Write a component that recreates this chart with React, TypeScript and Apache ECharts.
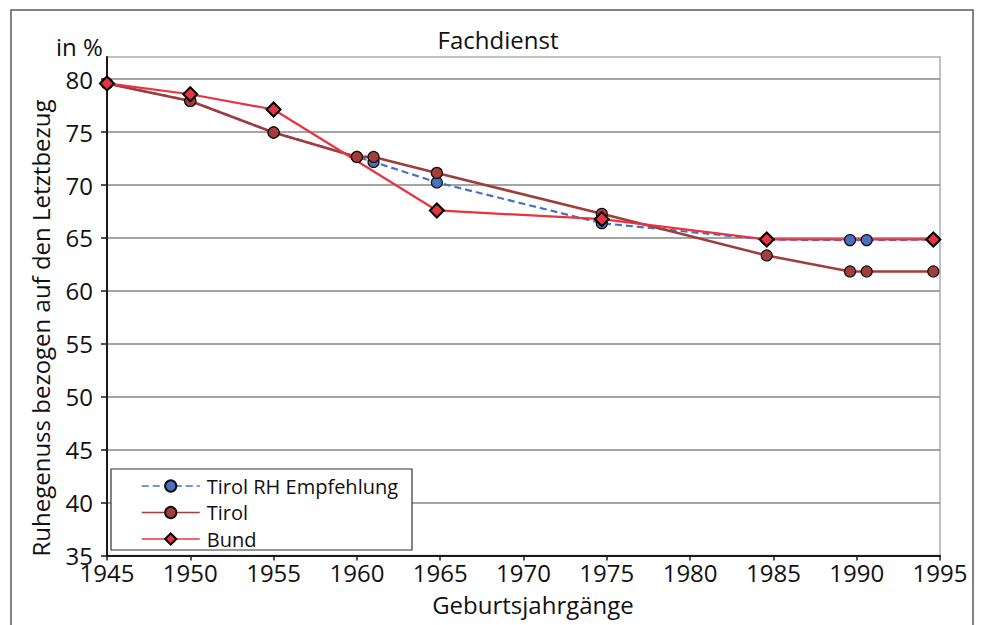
import React, { useEffect, useRef } from "react";
import * as echarts from "echarts";

const FONT = "'Open Sans', 'Liberation Sans', sans-serif";

const seriesNames = ["Tirol RH Empfehlung", "Tirol", "Bund"];
const tirolYears = [1945, 1950, 1955, 1960, 1961, 1964.8, 1974.7, 1984.6, 1989.6, 1990.6, 1994.6];
const rhValues = [79.6, 77.95, 74.97, 72.66, 72.19, 70.25, 66.4, 64.85, 64.8, 64.8, 64.85];
const tirolValues = [79.6, 77.95, 74.97, 72.66, 72.66, 71.15, 67.28, 63.35, 61.84, 61.84, 61.84];
const bundYears = [1945, 1950, 1955, 1964.8, 1974.7, 1984.6, 1994.6];
const bundValues = [79.6, 78.58, 77.14, 67.6, 66.78, 64.86, 64.86];
const yTicks = [35, 40, 45, 50, 55, 60, 65, 70, 75, 80];

const title = "Fachdienst";
const yName = "Ruhegenuss bezogen auf den Letztbezug";
const yUnit = "in %";
const xName = "Geburtsjahrgänge";

export default function App() {
  const ref = useRef<HTMLDivElement>(null);
  useEffect(() => {
    if (!ref.current) return;
    const chart = echarts.init(ref.current, undefined, { renderer: "svg" });
    const pair = (xs: number[], ys: number[]) => xs.map((x, i) => [x, ys[i]]);
    chart.setOption({
      animation: false,
      backgroundColor: "#ffffff",
      textStyle: { fontFamily: FONT },
      title: {
        text: title,
        left: 498,
        top: 27,
        textAlign: "center",
        padding: 0,
        textStyle: { fontSize: 24, fontWeight: "normal", color: "#111", fontFamily: FONT },
      },
      grid: {
        left: 107,
        right: 42,
        top: 57,
        bottom: 69.5,
        show: true,
        borderColor: "#a9afb1",
        borderWidth: 1.5,
        backgroundColor: "transparent",
      },
      xAxis: {
        type: "value",
        min: 1945,
        max: 1995,
        interval: 5,
        name: xName,
        nameLocation: "middle",
        nameGap: 37,
        nameTextStyle: { fontSize: 24, color: "#111", fontFamily: FONT, padding: [0, 0, 0, 19] },
        axisLine: { show: true, lineStyle: { color: "#1a1a1a", width: 2 } },
        axisTick: { show: true, length: 5, lineStyle: { color: "#1a1a1a", width: 1.5 } },
        axisLabel: {
          fontSize: 24,
          color: "#111",
          margin: 5,
          fontFamily: FONT,
          formatter: (v: number) => String(v),
        },
        splitLine: { show: false },
      },
      yAxis: {
        type: "value",
        min: 35,
        max: 82.1,
        interval: 5,
        axisLine: { show: true, lineStyle: { color: "#1a1a1a", width: 2 } },
        axisTick: { show: true, length: 6, customValues: yTicks, lineStyle: { color: "#1a1a1a", width: 1.5 } },
        axisLabel: {
          customValues: yTicks,
          fontSize: 24,
          color: "#111",
          margin: 14,
          fontFamily: FONT,
          formatter: (v: number) => String(v),
        },
        splitLine: { show: true, showMinLine: false, lineStyle: { color: "#868686", width: 1.5 } },
      },
      legend: {
        orient: "vertical",
        left: 141,
        top: 476,
        itemWidth: 58,
        itemHeight: 14,
        itemGap: 6.5,
        padding: 0,
        data: seriesNames,
        lineStyle: { width: 1.5 },
        textStyle: { fontSize: 20, color: "#111", fontFamily: FONT, padding: [0, 0, 0, 2] },
      },
      graphic: [
        {
          type: "rect",
          silent: true,
          z: -1,
          shape: { x: 11, y: 10, width: 962, height: 700 },
          style: { fill: "none", stroke: "#5a5a5a", lineWidth: 1.5 },
        },
        {
          type: "rect",
          silent: true,
          z: 3,
          shape: { x: 111, y: 469, width: 301, height: 81 },
          style: { fill: "#ffffff", stroke: "#333333", lineWidth: 1.2 },
        },
        {
          type: "text",
          silent: true,
          x: 56,
          y: 46,
          style: { text: yUnit, fontSize: 24, fontFamily: FONT, fill: "#111", textVerticalAlign: "middle" },
        },
        {
          type: "text",
          silent: true,
          x: 40,
          y: 328,
          rotation: Math.PI / 2,
          style: {
            text: yName,
            fontSize: 24,
            fontFamily: FONT,
            fill: "#111",
            textAlign: "center",
            textVerticalAlign: "middle",
          },
        },
      ],
      series: [
        {
          name: seriesNames[0],
          type: "line",
          data: pair(tirolYears, rhValues),
          symbol: "circle",
          symbolSize: 11,
          lineStyle: { color: "#4472c4", width: 2.2, type: [7, 4] },
          itemStyle: { color: "#4a70bf", borderColor: "#111", borderWidth: 1.2 },
        },
        {
          name: seriesNames[1],
          type: "line",
          data: pair(tirolYears, tirolValues),
          symbol: "circle",
          symbolSize: 11,
          lineStyle: { color: "#a13c3b", width: 2.6 },
          itemStyle: { color: "#a53d3a", borderColor: "#111", borderWidth: 1.2 },
        },
        {
          name: seriesNames[2],
          type: "line",
          data: pair(bundYears, bundValues),
          symbol: "diamond",
          symbolSize: 14,
          lineStyle: { color: "#ea3340", width: 2.2 },
          itemStyle: { color: "#ea3340", borderColor: "#000", borderWidth: 2 },
        },
      ],
    });
    return () => chart.dispose();
  }, []);
  return (
    <div
      ref={ref}
      style={{ position: "absolute", left: 0, top: 0, width: 982, height: 625 }}
    />
  );
}
